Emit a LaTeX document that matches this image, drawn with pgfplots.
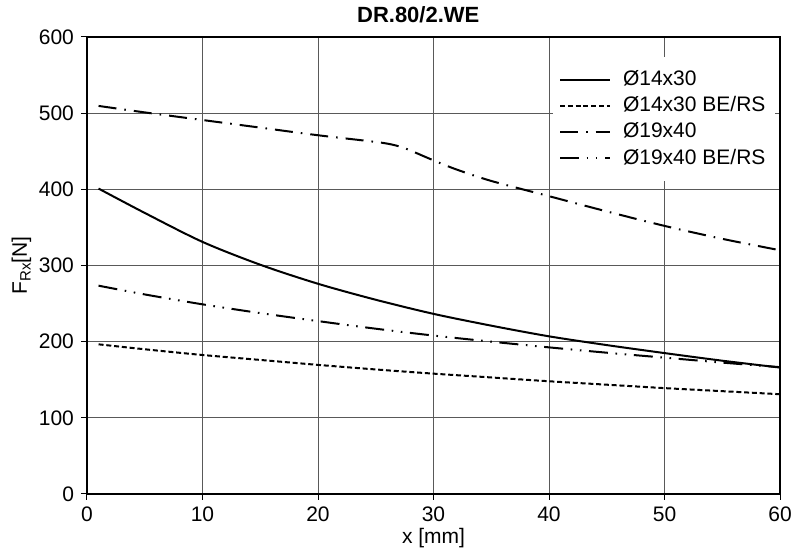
\documentclass[border=0pt]{standalone}
\usepackage{fontspec}
\setmainfont{Liberation Sans}
\usepackage{pgfplots}
\pgfplotsset{compat=1.18}
\begin{document}
\begin{tikzpicture}
\begin{axis}[
  scale only axis,
  width=346.5pt, height=228.5pt,
  xmin=0, xmax=60, ymin=0, ymax=600,
  xtick={0,10,...,60}, ytick={0,100,...,600},
  /pgf/number format/assume math mode=true,
  tick label style={font=\fontsize{10.5}{12}\selectfont},
  label style={font=\fontsize{10.5}{12}\selectfont},
  grid=major,
  grid style={black!65, line width=0.5pt},
  axis line style={black, line width=0.6pt},
  tick align=outside, major tick length=3pt,
  tick style={black, line width=0.5pt},
  xtick pos=bottom, ytick pos=left,
  xlabel={x [mm]},
  xlabel style={yshift=3.5pt},
  ylabel={F\raisebox{-0.35ex}{\fontsize{7.5}{8}\selectfont Rx}[N]},
  ylabel style={yshift=-3pt},
  title={\textbf{DR.80/2.WE}},
  title style={font=\fontsize{11}{13}\selectfont, anchor=base, at={(axis description cs:0.478,1)}, yshift=7pt},
  every axis title shift=0pt,
  legend style={draw=none, fill=white, at={(rel axis cs:0.994,0.958)}, anchor=north east,
    font=\fontsize{10.5}{12}\selectfont, inner xsep=3pt, inner ysep=5pt, row sep=0pt},
  legend cell align=left,
  legend image code/.code={\draw[#1] (0pt,0pt) -- (25pt,0pt); \path (29pt,0pt);},
]
\addplot[black, line width=1pt, smooth, solid] coordinates {
(1,401) (5,369) (10,331) (15,301) (20,276) (25,255) (30,236.5) (35,221) (40,207) (45,195.5) (50,185) (55,175) (60,166)};
\addlegendentry{Ø14x30}
\addplot[black, line width=1pt, smooth, dash pattern=on 2.5pt off 1.4pt] coordinates {
(1,196.5) (5,190) (10,182.5) (15,176) (20,169.5) (25,163.5) (30,158) (35,153) (40,148) (45,143.5) (50,139) (55,135) (60,131)};
\addlegendentry{Ø14x30 BE/RS}
\addplot[black, line width=1pt, smooth, dash pattern=on 9pt off 4pt on 0.8pt off 4pt] coordinates {
(1,509.5) (5,501) (10,491) (15,481) (20,471) (24,464) (26,460) (27.5,454) (30,438) (32,426) (35,411) (40,391) (45,371) (50,352) (55,335) (60,320)};
\addlegendentry{Ø19x40}
\addplot[black, line width=1pt, smooth, dash pattern=on 9.5pt off 3.8pt on 0.8pt off 3.8pt on 0.8pt off 3.8pt] coordinates {
(1,273.5) (5,262) (10,249) (15,237.5) (20,227) (25,217) (30,208) (35,200) (40,192.5) (45,185.5) (50,179) (55,172.5) (60,166.5)};
\addlegendentry{Ø19x40 BE/RS}
\end{axis}
\pgfresetboundingbox
\useasboundingbox ([xshift=-43.5pt,yshift=-30pt]current axis.south west) rectangle ([xshift=6.5pt,yshift=18.5pt]current axis.north east);
\end{tikzpicture}
\end{document}
